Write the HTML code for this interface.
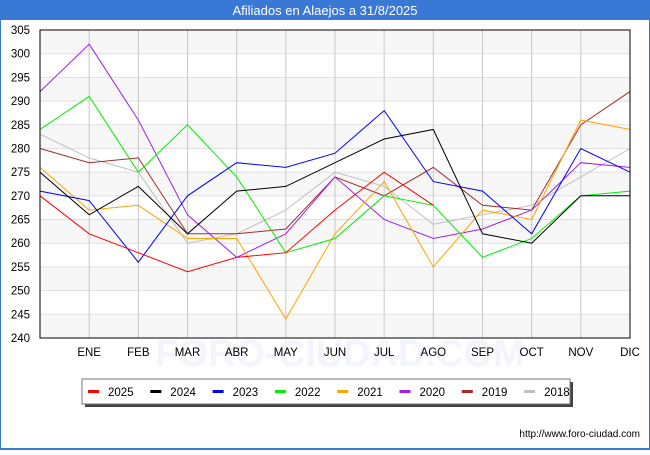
<!DOCTYPE html>
<html><head><meta charset="utf-8"><style>
body{margin:0;width:650px;height:450px;overflow:hidden;font-family:"Liberation Sans",sans-serif;}
</style></head><body>
<svg width="650" height="450" xmlns="http://www.w3.org/2000/svg" id="chart">
<rect x="0" y="0" width="650" height="450" fill="#3a78d6"/>
<rect x="1" y="20" width="648" height="428" fill="#fff"/>
<text x="325" y="15" text-anchor="middle" fill="#fff" font-size="13">Afiliados en Alaejos a 31/8/2025</text>
<text x="340" y="366" text-anchor="middle" fill="#f3f4fc" font-size="38" font-weight="bold">FORO-CIUDAD.COM</text>
<g id="grid"></g>
<g id="series"></g>
<rect x="40" y="30" width="590" height="308" fill="none" stroke="#000" stroke-width="1"/>
<g id="legend">
<rect x="85" y="382" width="488" height="25" fill="#444"/>
<rect x="82" y="379" width="488" height="25" fill="#fff" stroke="#777"/>
</g>
<text x="640" y="437" text-anchor="end" font-size="10" fill="#000">http://www.foro-ciudad.com</text>
</svg>
<script>
const months = ["", "ENE","FEB","MAR","ABR","MAY","JUN","JUL","AGO","SEP","OCT","NOV","DIC"];
const yTicks = [240,245,250,255,260,265,270,275,280,285,290,295,300,305];
const seriesNames = ["2025","2024","2023","2022","2021","2020","2019","2018"];
const seriesColors = ["#ff0000","#000000","#0000ff","#00ee00","#ffa500","#a020f0","#a52a2a","#c0c0c0"];
const s2025 = [270,262,258,254,257,258,267,275,268];
const s2024 = [275,266,272,262,271,272,277,282,284,262,260,270,270];
const s2023 = [271,269,256,270,277,276,279,288,273,271,262,280,275];
const s2022 = [284,291,275,285,274,258,261,270,268,257,261,270,271];
const s2021 = [276,267,268,261,261,244,262,273,255,267,265,286,284];
const s2020 = [292,302,286,266,257,262,274,265,261,263,267,277,276];
const s2019 = [280,277,278,262,262,263,274,270,276,268,267,285,292];
const s2018 = [283,278,275,260,262,267,275,272,264,266,268,274,280];
const allSeries = [s2025,s2024,s2023,s2022,s2021,s2020,s2019,s2018];

const NS="http://www.w3.org/2000/svg";
const x0=40,x1=630,yTop=30,yBot=338,yMin=240,yMax=305;
const xs=i=>x0+(x1-x0)*i/(months.length-1);
const ys=v=>yBot-(v-yMin)*(yBot-yTop)/(yMax-yMin);
function mk(tag,attrs,parent){const e=document.createElementNS(NS,tag);for(const k in attrs)e.setAttribute(k,attrs[k]);parent.appendChild(e);return e;}
const grid=document.getElementById('grid');
for(let i=0;i<yTicks.length-1;i++){
  if(i%2===0){const b=mk('rect',{x:x0,y:ys(yTicks[i+1]),width:x1-x0,height:ys(yTicks[i])-ys(yTicks[i+1]),fill:'#f7f7f7'},grid);
  
  }
}
yTicks.forEach(t=>{
  const l=mk('line',{x1:x0,x2:x1,y1:ys(t),y2:ys(t),stroke:'#e0e0e0'},grid);
  
  
  const tx=mk('text',{x:x0-10,y:ys(t)+4,'text-anchor':'end','font-size':'11.5',fill:'#000'},grid);
  tx.textContent=t;
  
  
});
months.forEach((m,i)=>{
  if(i===0)return;
  const l=mk('line',{x1:xs(i),x2:xs(i),y1:yTop,y2:yBot,stroke:'#c8c8c8'},grid);
  
  
  const tx=mk('text',{x:xs(i),y:356,'text-anchor':'middle','font-size':'11.5',fill:'#000'},grid);
  tx.textContent=m;
  
  
});
const sg=document.getElementById('series');
for(let k=allSeries.length-1;k>=0;k--){
  const d=allSeries[k].map((v,i)=>xs(i).toFixed(1)+','+ys(v).toFixed(1)).join(' ');
  const p=mk('polyline',{points:d,fill:'none',stroke:seriesColors[k],'stroke-width':'1'},sg);
  
  
}
const lg=document.getElementById('legend');
seriesNames.forEach((n,k)=>{
  const lx=88+k*62.3;
  const m=mk('rect',{x:lx,y:390,width:11,height:3,fill:seriesColors[k]},lg);
  
  
  const t=mk('text',{x:lx+20,y:396,'font-size':'11.5',fill:'#000'},lg);
  t.textContent=n;
  
  
});
</script>
</body></html>
